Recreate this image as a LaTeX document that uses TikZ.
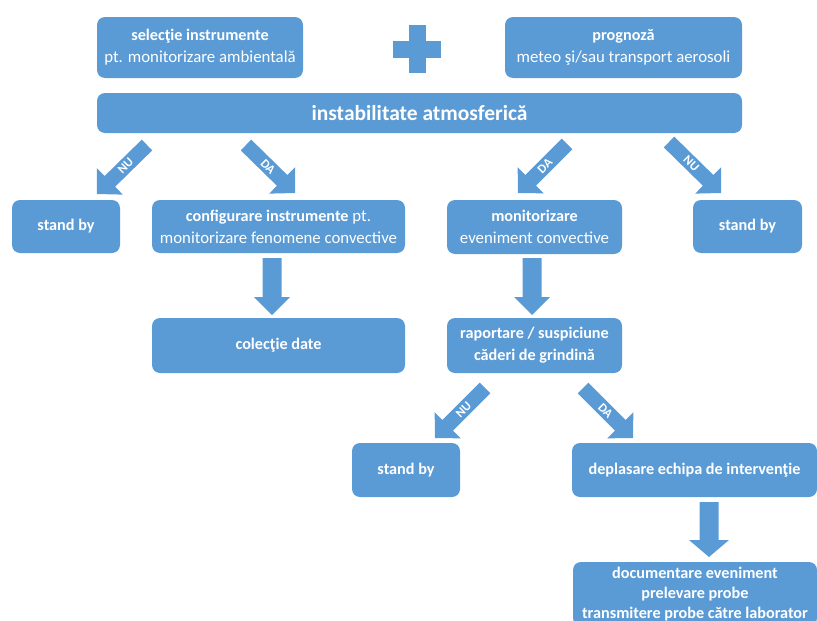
\documentclass[tikz,border=0pt]{standalone}
\usepackage{fontspec}
\setmainfont{Carlito}
\usetikzlibrary{calc}
\definecolor{boxblue}{HTML}{5B9BD5}
\newcommand\bt[1]{{\fontsize{16.2}{22}\selectfont\bfseries #1}}
\newcommand\barr[5]{%
  \coordinate (hb) at ($(#2)!#5!(#1)$);
  \fill[arrfill] ($(#1)!#3!90:(#2)$) -- ($(hb)!#3!90:(#2)$) -- ($(hb)!#4!90:(#2)$) -- (#2)
    -- ($(hb)!#4!-90:(#2)$) -- ($(hb)!#3!-90:(#2)$) -- ($(#1)!#3!-90:(#2)$) -- cycle;}
\begin{document}
\begin{tikzpicture}[x=1pt,y=-1pt,
  box/.style={fill=boxblue, rounded corners=8pt, text=white, align=center, inner sep=0pt,
    font=\fontsize{16.8}{22}\selectfont},
  bbox/.style={box, font=\fontsize{16.2}{22}\selectfont\bfseries},
  lab/.style={text=white, font=\fontsize{12.5}{13}\selectfont\bfseries, inner sep=0pt},
  arrfill/.style={fill=boxblue}]
\useasboundingbox (0,0) rectangle (817,621);
\clip (0,0) rectangle (817,621);

% boxes
\node[box, minimum width=206pt, minimum height=61pt] (sel) at (200,47.5)
  {\bt{selecţie instrumente}\\pt. monitorizare ambientală};
\node[box, minimum width=237pt, minimum height=61pt] (prog) at (623.5,47.5)
  {\bt{prognoză}\\meteo şi/sau transport aerosoli};
\node[box, minimum width=645pt, minimum height=40pt, font=\fontsize{21.5}{24}\selectfont\bfseries] (inst) at (419.5,113)
  {instabilitate atmosferică};
\node[bbox, minimum width=108pt, minimum height=53pt] (sb1) at (66,226.5) {stand by};
\node[box, minimum width=253pt, minimum height=53pt] (conf) at (278.5,226.5)
  {\bt{configurare instrumente} pt.\\monitorizare fenomene convective};
\node[box, minimum width=175pt, minimum height=54pt] (mon) at (534.5,227)
  {\bt{monitorizare}\\eveniment convective};
\node[bbox, minimum width=109pt, minimum height=53pt] (sb2) at (747.5,226.5) {stand by};
\node[bbox, minimum width=253pt, minimum height=55pt] (col) at (278.5,345.5) {colecţie date};
\node[bbox, minimum width=175pt, minimum height=55pt] (rap) at (534.5,345.5)
  {raportare / suspiciune\\căderi de grindină};
\node[bbox, minimum width=108pt, minimum height=54pt] (sb3) at (406,470) {stand by};
\node[bbox, minimum width=245pt, minimum height=54pt] (depl) at (694.5,470)
  {deplasare echipa de intervenţie};
\node[bbox, minimum width=244pt, minimum height=64pt, font=\fontsize{16.2}{20}\selectfont\bfseries] (doc) at (695,594)
  {documentare eveniment\\prelevare probe\\transmitere probe către laborator};

% plus sign
\fill[boxblue] (408.5,25) rectangle (425.5,73);
\fill[boxblue] (393,40.5) rectangle (441,57.5);

% arrow end points
\coordinate (n1s) at (147,145); \coordinate (n1e) at (97,194);
\coordinate (d1s) at (246,145); \coordinate (d1e) at (295,193);
\coordinate (d2s) at (567,144); \coordinate (d2e) at (518,193);
\coordinate (n2s) at (669,142); \coordinate (n2e) at (721,193);
\coordinate (n3s) at (485,388); \coordinate (n3e) at (435,438);
\coordinate (d3s) at (583,388); \coordinate (d3e) at (633,438);
\coordinate (v1s) at (272,258); \coordinate (v1e) at (272,315);
\coordinate (v2s) at (532,258); \coordinate (v2e) at (532,315);
\coordinate (v3s) at (709,502); \coordinate (v3e) at (709,557);

\barr{n1s}{n1e}{7.5pt}{18.5pt}{18pt}
\barr{d1s}{d1e}{7.5pt}{18.5pt}{18pt}
\barr{d2s}{d2e}{7.5pt}{18.5pt}{18pt}
\barr{n2s}{n2e}{7.5pt}{18.5pt}{18pt}
\barr{n3s}{n3e}{7.5pt}{18.5pt}{18pt}
\barr{d3s}{d3e}{7.5pt}{18.5pt}{18pt}
\barr{v1s}{v1e}{9.5pt}{18pt}{18pt}
\barr{v2s}{v2e}{9.5pt}{18pt}{18pt}
\barr{v3s}{v3e}{9.5pt}{20pt}{17pt}

% labels
\node[lab, rotate=45] (ln1) at ($(n1s)!0.43!(n1e)$) {NU};
\node[lab, rotate=-45] (ld1) at ($(d1s)!0.45!(d1e)$) {DA};
\node[lab, rotate=45] (ld2) at ($(d2s)!0.45!(d2e)$) {DA};
\node[lab, rotate=-45] (ln2) at ($(n2s)!0.43!(n2e)$) {NU};
\node[lab, rotate=45] (ln3) at ($(n3s)!0.43!(n3e)$) {NU};
\node[lab, rotate=-45] (ld3) at ($(d3s)!0.45!(d3e)$) {DA};
\end{tikzpicture}
\end{document}
